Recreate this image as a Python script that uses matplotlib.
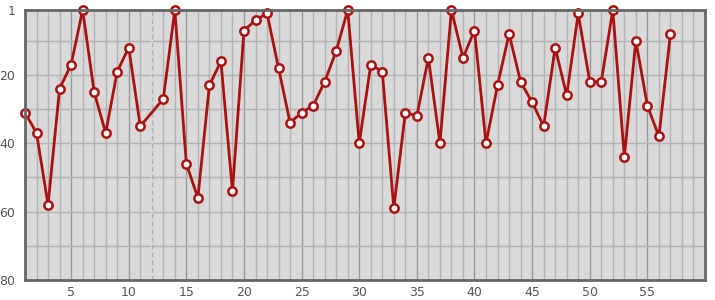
import numpy as np
import matplotlib
matplotlib.use("Agg")
import matplotlib.pyplot as plt

plt.rcParams['font.family'] = 'DejaVu Sans'

# rank per position, None = missing (position 12)
positions = list(range(1, 58))
ranks = [31, 37, 58, 24, 17, 1, 25, 37, 19, 12,
         35, None, 27, 1, 46, 56, 23, 16, 54, 7,
         4, 2, 18, 34, 31, 29, 22, 13, 1, 40,
         17, 19, 59, 31, 32, 15, 40, 1, 15, 7,
         40, 23, 8, 22, 28, 35, 12, 26, 2, 22,
         22, 1, 44, 10, 29, 38, 8]
missing_x = [p for p, r in zip(positions, ranks) if r is None]
y_ticks = [1, 20, 40, 60, 80]
x_ticks = [5, 10, 15, 20, 25, 30, 35, 40, 45, 50, 55]

fig = plt.figure(figsize=(7.15, 3.0), dpi=100)
ax = fig.add_axes([25/715, 20/300, 680/715, 270/300])
ax.set_facecolor("#d9d9d9")

# grid
for x in range(2, 60):
    ax.axvline(x, color="#999999" if x % 5 == 0 else "#b4b4b4", lw=1, zorder=1)
for y in range(10, 80, 10):
    ax.axhline(y, color="#b4b4b4", lw=1, zorder=1)
for x in missing_x:
    ax.axvline(x, color="#d9d9d9", lw=1.5, zorder=1.5)
    ax.axvline(x, color="#b0b0b0", lw=0.8, ls=(0, (4, 3)), zorder=1.6)

# line, broken at missing values
xs = np.array(positions, dtype=float)
ys = np.array([np.nan if r is None else r for r in ranks], dtype=float)
ok = ~np.isnan(ys)
ax.plot(xs[ok], ys[ok], color="#aa1111", lw=2, zorder=3, clip_on=False)
ax.plot(xs[ok], ys[ok], ls="none", marker="o", ms=6, mfc="white", mec="#aa1111",
        mew=1.8, zorder=4, clip_on=False)

ax.set_xlim(1, 60)
ax.set_ylim(80, 1)
ax.set_xticks(x_ticks)
ax.set_yticks(y_ticks)
ax.tick_params(length=0, labelsize=9, colors="#555555", pad=4)
ax.tick_params(axis="y", pad=7)
for s in ax.spines.values():
    s.set_color("#666666")
    s.set_linewidth(2)
    s.set_zorder(5)

fig.savefig("out.png", dpi=100)
